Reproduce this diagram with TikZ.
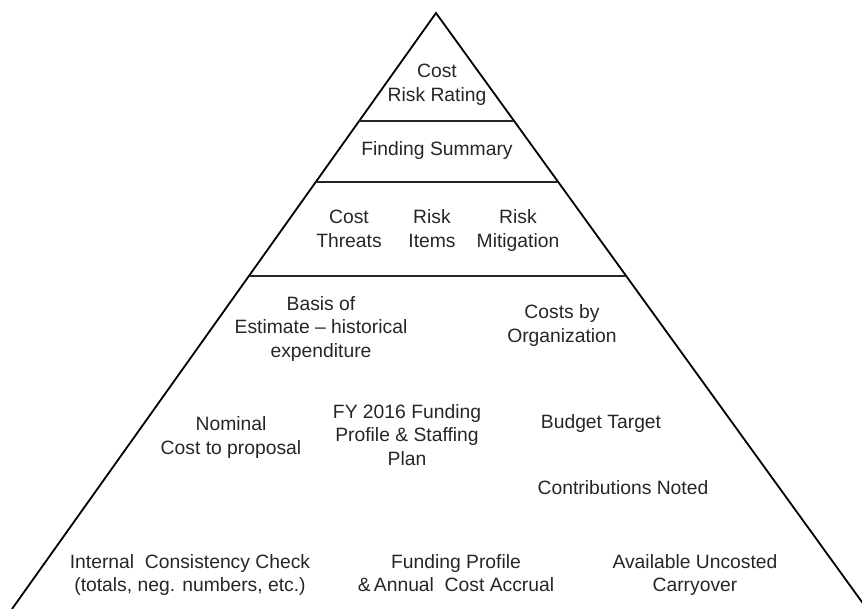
\documentclass[tikz,border=0pt]{standalone}
\usepackage{fontspec}
\setmainfont{Liberation Sans}
\usetikzlibrary{calc}
\begin{document}
\begin{tikzpicture}[x=1pt,y=-1pt,
  side/.style={line width=1.8pt,black},
  tier/.style={line width=1.3pt,black!85},
  lbl/.style={align=center,inner sep=0pt,font=\fontsize{19.3}{23.8}\selectfont,text=black!85,
    execute at begin node=\strut, execute at end node=\strut}]
\useasboundingbox (0,0) rectangle (862,609);
\coordinate (A) at (436,13);
\coordinate (L) at (12,609);
\coordinate (R) at (867,609);
\draw[side,line join=miter] (L) -- (A) -- (R);
\coordinate (l1) at ($(A)!0.1812!(L)$);
\coordinate (r1) at ($(A)!0.1812!(R)$);
\coordinate (l2) at ($(A)!0.2836!(L)$);
\coordinate (r2) at ($(A)!0.2836!(R)$);
\coordinate (l3) at ($(A)!0.4413!(L)$);
\coordinate (r3) at ($(A)!0.4413!(R)$);
\draw[tier] (l1) -- (r1);
\draw[tier] (l2) -- (r2);
\draw[tier] (l3) -- (r3);
\node[lbl] (rating) at (437,86.5) {Cost\\Risk Rating};
\node[lbl] (finding) at (437,151) {Finding Summary};
\node[lbl] (threats) at (349,232) {Cost\\Threats};
\node[lbl] (items) at (432,232) {Risk\\Items};
\node[lbl] (mitig) at (518,232) {Risk\\Mitigation};
\node[lbl] (basis) at (321,330.5) {Basis of\\Estimate -- historical\\expenditure};
\node[lbl] (costsorg) at (562,327) {Costs by\\Organization};
\node[lbl] (nominal) at (231,439) {Nominal\\Cost to proposal};
\node[lbl] (fy) at (407,438.5) {FY 2016 Funding\\Profile \& Staffing\\Plan};
\node[lbl] (budget) at (601,424) {Budget Target};
\node[lbl] (contrib) at (623,490) {Contributions Noted};
\node[lbl] (internal) at (190,576.5) {Internal\ \ Consistency Check\\(totals, neg. numbers, etc.)};
\node[lbl] (fundprof) at (456,576.5) {Funding Profile\\\&\,Annual\ \ Cost Accrual};
\node[lbl] (avail) at (695,576.5) {Available Uncosted\\Carryover};
\end{tikzpicture}
\end{document}
